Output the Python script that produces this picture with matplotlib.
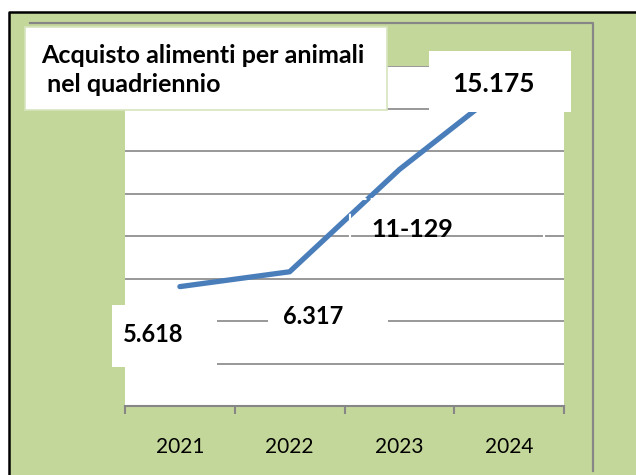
import matplotlib.pyplot as plt
from matplotlib.patches import Rectangle
from matplotlib.lines import Line2D

# dati
anni = ["2021", "2022", "2023", "2024"]
spesa = [5.618, 6.317, 11.129, 15.175]
etichette = ["5.618", "6.317", "11-129", "15.175"]
titolo = ["Acquisto alimenti per animali", " nel quadriennio"]

W, H = 636, 475
verde = "#c4d79b"
grigio = "#868686"
blu = "#4a7ebb"


def fx(x):
    return x / W


def fy(y):
    return 1 - y / H


plt.rcParams["font.family"] = ["Lato", "DejaVu Sans"]
fig = plt.figure(figsize=(W / 100, H / 100), dpi=100)
fig.patch.set_facecolor("white")

# sfondo verde con bordo nero e cornice grigia
fig.add_artist(Rectangle((fx(9), 0), 1 - fx(9), fy(12), transform=fig.transFigure,
                         facecolor=verde, edgecolor="none", zorder=-10))
fig.add_artist(Line2D([fx(9), fx(9), 1], [0, fy(12), fy(12)], transform=fig.transFigure,
                      color="black", lw=1.8, zorder=-9))
fig.add_artist(Line2D([fx(30), fx(593), fx(593)], [fy(23), fy(23), fy(471)],
                      transform=fig.transFigure, color=grigio, lw=1.6, zorder=-9))

ax = fig.add_axes([fx(125), fy(406), fx(564) - fx(125), fy(66) - fy(406)])
ax.set_facecolor("white")
x = list(range(len(anni)))
ax.plot(x, spesa, color=blu, lw=3.8, solid_capstyle="round", zorder=3)
ax.set_xlim(-0.5, len(anni) - 0.5)
ax.set_ylim(0, 16)
ax.set_yticks(range(0, 17, 2))
ax.yaxis.grid(True, color=grigio, lw=1.2)
ax.set_axisbelow(True)
ax.tick_params(axis="y", left=False, labelleft=False)
for s in ["left", "right", "top"]:
    ax.spines[s].set_visible(False)
ax.spines["bottom"].set_color(grigio)
ax.spines["bottom"].set_linewidth(1.5)
ax.set_xticks(x)
ax.set_xticklabels(anni, fontsize=15)
ax.tick_params(axis="x", which="major", length=0, pad=22)
ax.set_xticks([i - 0.5 for i in range(len(anni) + 1)], minor=True)
ax.tick_params(axis="x", which="minor", length=5.5, width=1.5, color=grigio, direction="out")

# box bianchi delle etichette (in pixel della figura)
def box(x0, y0, x1, y1, **kw):
    r = Rectangle((fx(x0), fy(y1)), fx(x1) - fx(x0), fy(y0) - fy(y1),
                  transform=fig.transFigure, clip_on=False, **kw)
    ax.add_patch(r)

box(25, 27, 387, 110, facecolor="white", edgecolor="#d7e4bd", lw=1.2, zorder=4)
box(112, 305, 217, 367, facecolor="white", edgecolor="none", zorder=4)
box(268, 292, 388, 352, facecolor="white", edgecolor="none", zorder=4)
box(429, 51, 571, 112, facecolor="white", edgecolor="none", zorder=4)
box(350, 199, 544, 265, fill=False, edgecolor="white", lw=1.5, ls=(0, (3, 2)), zorder=4)

# titolo
fig.text(fx(41), fy(63), titolo[0], fontsize=18, fontweight="bold", va="baseline", zorder=10)
fig.text(fx(41), fy(92), titolo[1], fontsize=18, fontweight="bold", va="baseline", zorder=10)

# etichette dei valori
offset = [(-27, -55), (23, -52), (13, -67), (-16, -8)]
dimensioni = [17, 17, 18, 19]
for i in range(len(anni)):
    ax.annotate(etichette[i], xy=(x[i], spesa[i]), xytext=offset[i], textcoords="offset pixels",
                ha="center", va="baseline", fontsize=dimensioni[i], fontweight="bold",
                zorder=6, annotation_clip=False)

plt.savefig("out.png", dpi=100)
plt.close()
